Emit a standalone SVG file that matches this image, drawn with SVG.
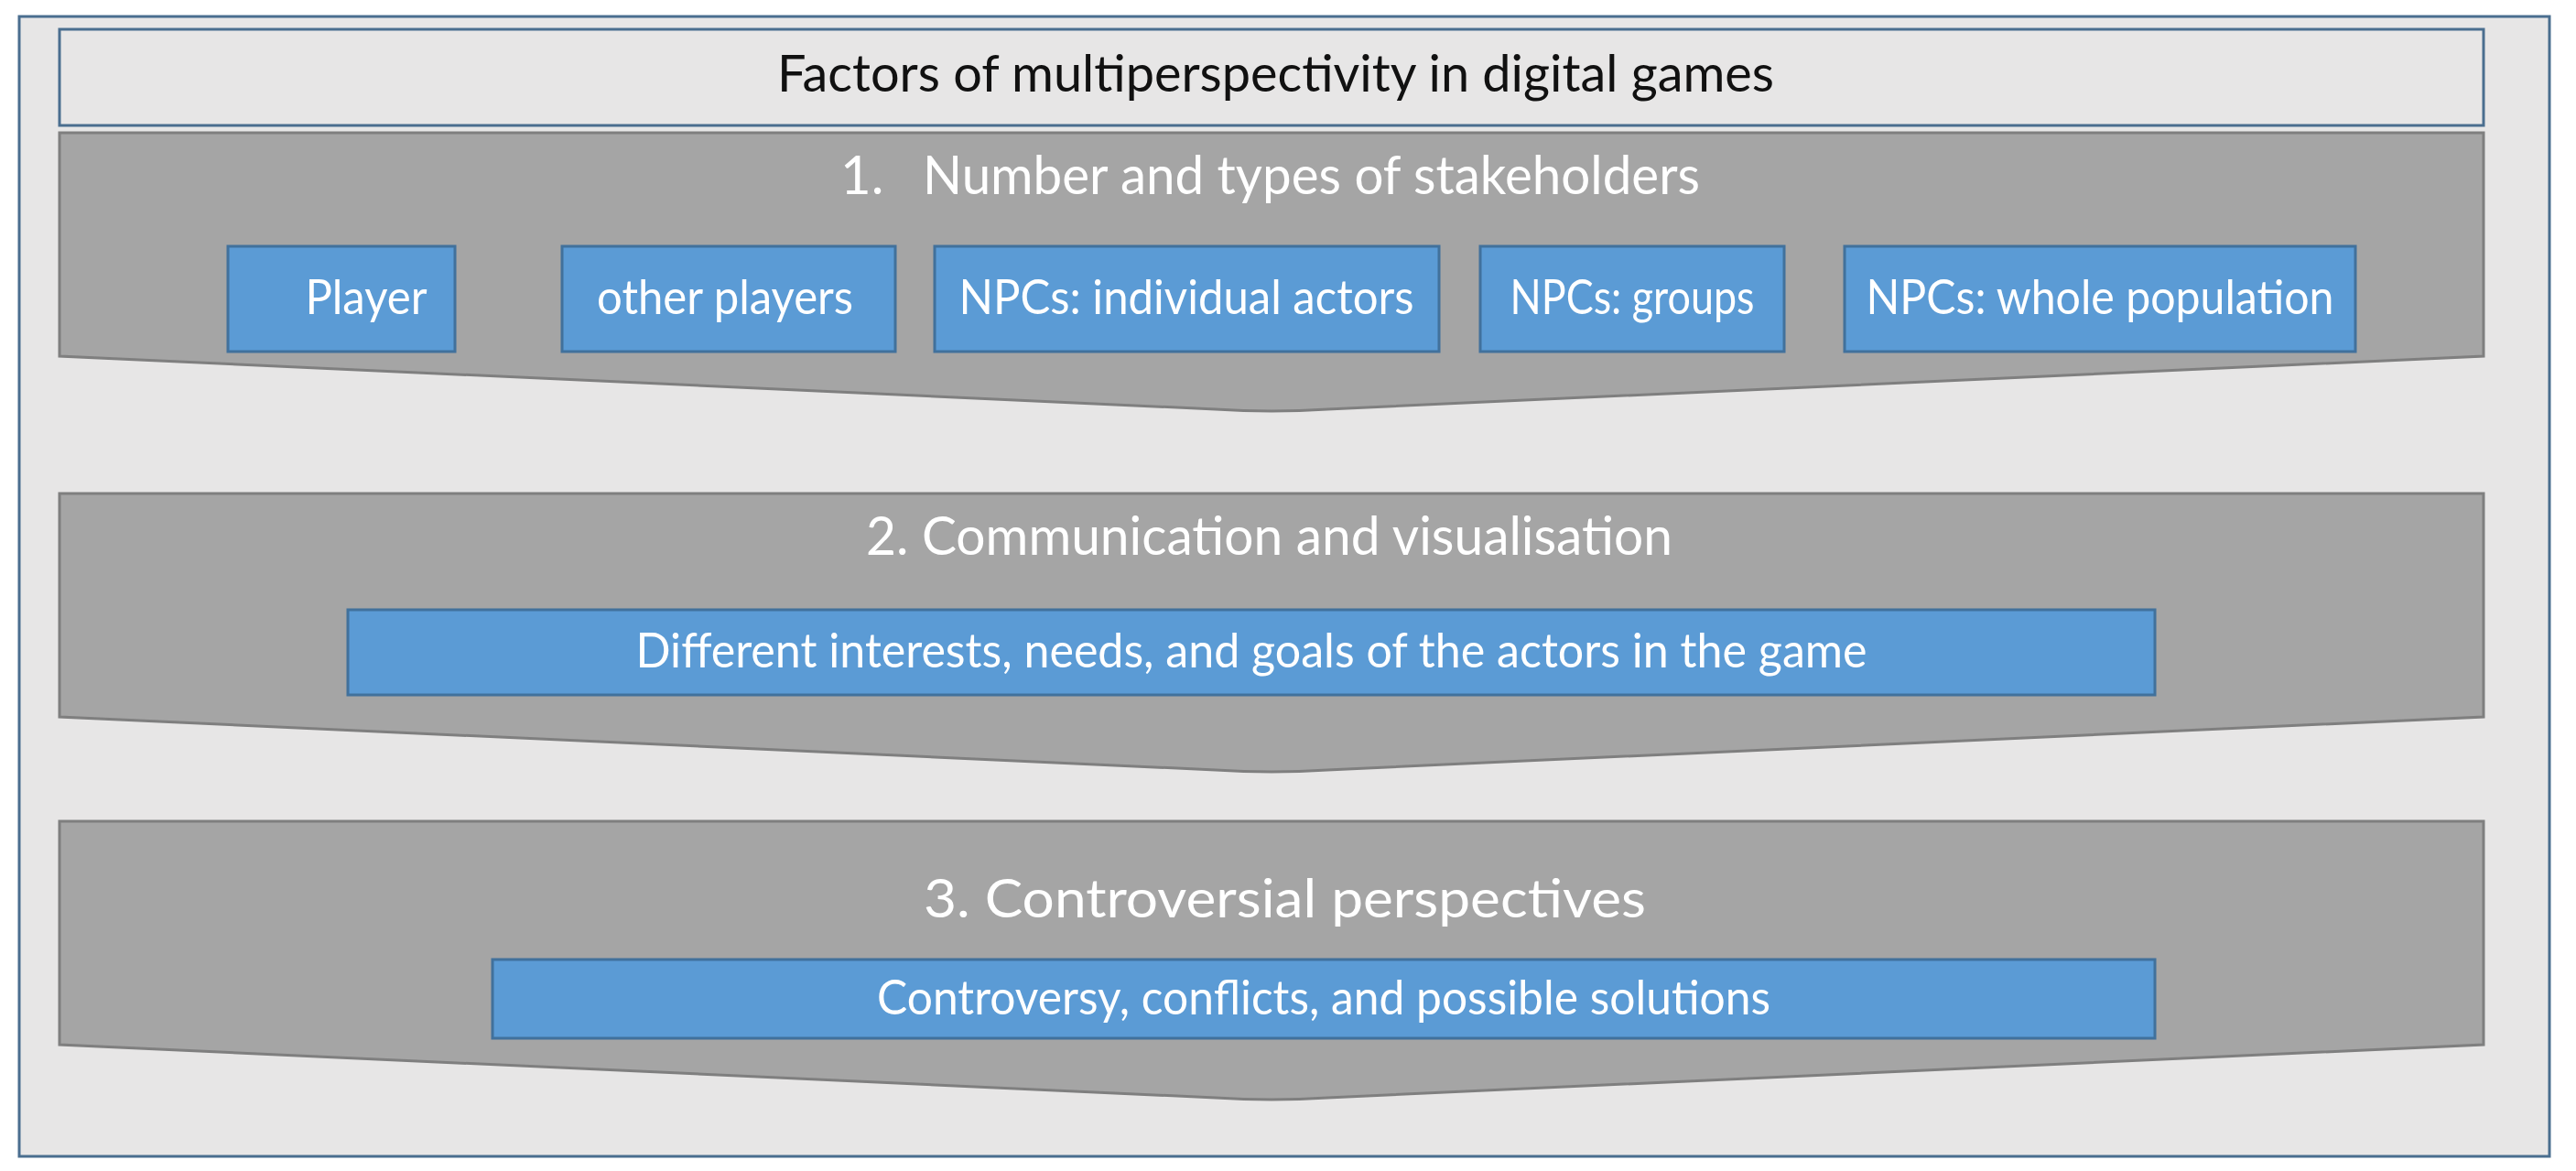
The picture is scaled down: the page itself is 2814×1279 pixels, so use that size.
<svg xmlns="http://www.w3.org/2000/svg" width="2814" height="1279" viewBox="0 0 2814 1279">
<style>
.frame{fill:#E7E6E6;stroke:#4A6E8F;stroke-width:3}
.title{fill:#E7E6E6;stroke:#4A6E8F;stroke-width:3}
.chev{fill:#A5A5A5;stroke:#7F7F7F;stroke-width:3}
.box{fill:#5B9BD5;stroke:#41719C;stroke-width:3}
.t{font-family:Lato,"Open Sans","Liberation Sans",sans-serif}
.dark{fill:#111111;font-size:56px}
.head{fill:#FFFFFF;font-size:58px}
.lbl{fill:#FFFFFF;font-size:52px}
</style>
<rect width="2814" height="1279" fill="#FFFFFF"/>
<g id="frame"><rect class="frame" x="21" y="18" width="2764" height="1245"/></g>
<g id="title"><rect class="title" x="65" y="32" width="2648" height="105"/>
<text class="t dark" x="849" y="100" textLength="1089" lengthAdjust="spacingAndGlyphs">Factors of multiperspectivity in digital games</text></g>
<g id="stage1">
<path class="chev" d="M65,145 H2713 V389 L1450,447 Q1389,451 1328,447 L65,389 Z"/>
<text class="t head" x="918" y="212">1.</text>
<text class="t head" x="1008" y="212" textLength="849" lengthAdjust="spacingAndGlyphs">Number and types of stakeholders</text>
</g>
<g id="player"><rect class="box" x="249" y="269" width="248" height="115"/><text class="t lbl" x="400" y="343" text-anchor="middle" textLength="133" lengthAdjust="spacingAndGlyphs">Player</text></g>
<g id="other-players"><rect class="box" x="614" y="269" width="364" height="115"/><text class="t lbl" x="792" y="343" text-anchor="middle" textLength="280" lengthAdjust="spacingAndGlyphs">other players</text></g>
<g id="npc-individual"><rect class="box" x="1021" y="269" width="551" height="115"/><text class="t lbl" x="1296" y="343" text-anchor="middle" textLength="497" lengthAdjust="spacingAndGlyphs">NPCs: individual actors</text></g>
<g id="npc-groups"><rect class="box" x="1617" y="269" width="332" height="115"/><text class="t lbl" x="1783" y="343" text-anchor="middle" textLength="267" lengthAdjust="spacingAndGlyphs">NPCs: groups</text></g>
<g id="npc-population"><rect class="box" x="2015" y="269" width="558" height="115"/><text class="t lbl" x="2294" y="343" text-anchor="middle" textLength="511" lengthAdjust="spacingAndGlyphs">NPCs: whole population</text></g>
<g id="stage2">
<path class="chev" d="M65,539 H2713 V783 L1450,841 Q1389,845 1328,841 L65,783 Z"/>
<text class="t head" x="946" y="606" textLength="881" lengthAdjust="spacingAndGlyphs">2. Communication and visualisation</text>
</g>
<g id="interests"><rect class="box" x="380" y="666" width="1974" height="93"/><text class="t lbl" x="1367" y="729" text-anchor="middle" textLength="1345" lengthAdjust="spacingAndGlyphs">Different interests, needs, and goals of the actors in the game</text></g>
<g id="stage3">
<path class="chev" d="M65,897 H2713 V1141 L1450,1199 Q1389,1203 1328,1199 L65,1141 Z"/>
<text class="t head" x="1009" y="1002" textLength="789" lengthAdjust="spacingAndGlyphs">3. Controversial perspectives</text>
</g>
<g id="controversy"><rect class="box" x="538" y="1048" width="1816" height="86"/><text class="t lbl" x="1446" y="1108" text-anchor="middle" textLength="976" lengthAdjust="spacingAndGlyphs">Controversy, conflicts, and possible solutions</text></g>
<g id="connectors"></g>
</svg>
